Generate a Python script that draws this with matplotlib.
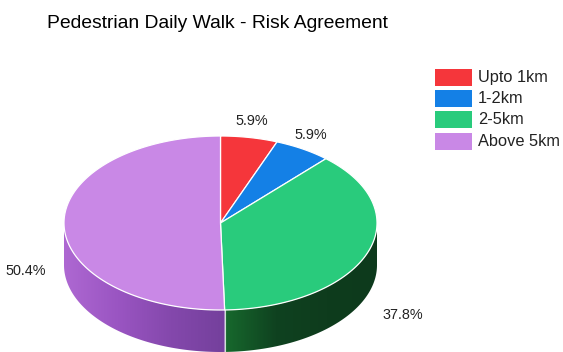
import numpy as np
import matplotlib
matplotlib.use("Agg")
import matplotlib.pyplot as plt
from matplotlib.patches import Polygon, Rectangle, PathPatch
from matplotlib.path import Path
from matplotlib.colors import LinearSegmentedColormap

plt.rcParams['font.family'] = ['Liberation Sans', 'DejaVu Sans']

title = "Pedestrian Daily Walk - Risk Agreement"
categories = ["Upto 1km", "1-2km", "2-5km", "Above 5km"]
counts = [7, 7, 45, 60]
top_colors = ["#f5363b", "#1480e6", "#29cb7c", "#c988e6"]
# side gradients (left -> right), only front slices need them
side_colors = {
    2: ["#17692d", "#0f4220", "#0e3c1d", "#0d3a1c"],
    3: ["#ae68d2", "#9a55c2", "#8448ac", "#74409c"],
}

W, H = 563, 352
fig = plt.figure(figsize=(W / 100, H / 100), dpi=100)
ax = fig.add_axes([0, 0, 1, 1])
ax.set_xlim(0, W)
ax.set_ylim(H, 0)
ax.axis("off")

cx, cy, rx, ry, depth = 220.5, 223.0, 156.5, 87.0, 42.0

vals = np.array(counts, dtype=float)
fracs = vals / vals.sum()
edges = np.concatenate([[0], np.cumsum(fracs)]) * 360.0


def pt(theta, dy=0.0):
    t = np.radians(theta)
    return cx + rx * np.sin(t), cy - ry * np.cos(t) + dy


# sides (front half: 90..270 deg clockwise from top)
for i in range(len(vals)):
    a0, a1 = max(edges[i], 90), min(edges[i + 1], 270)
    if a1 <= a0:
        continue
    th = np.linspace(a0, a1, 120)
    xt, yt = pt(th)
    xb, yb = pt(th[::-1], depth)
    verts = np.column_stack([np.concatenate([xt, xb]), np.concatenate([yt, yb])])
    clip = PathPatch(Path(np.vstack([verts, verts[:1]]), closed=True),
                     facecolor="none", edgecolor="none")
    ax.add_patch(clip)
    x_lo, x_hi = verts[:, 0].min(), verts[:, 0].max()
    cmap = LinearSegmentedColormap.from_list("s%d" % i, side_colors.get(i, [top_colors[i]] * 2))
    grad = np.linspace(0, 1, 256).reshape(1, -1)
    im = ax.imshow(grad, cmap=cmap, aspect="auto",
                   extent=[x_lo, x_hi, verts[:, 1].max(), verts[:, 1].min()],
                   interpolation="bilinear", zorder=1)
    im.set_clip_path(clip)

# vertical seam lines on the side
for e in edges[1:-1]:
    if 90 < e < 270:
        x0, y0 = pt(e)
        ax.plot([x0, x0], [y0, y0 + depth], color="white", lw=0.8, alpha=0.8, zorder=2)

# top wedges
for i in range(len(vals)):
    th = np.linspace(edges[i], edges[i + 1], 200)
    xs, ys = pt(th)
    poly = np.column_stack([np.concatenate([[cx], xs]), np.concatenate([[cy], ys])])
    ax.add_patch(Polygon(poly, closed=True, facecolor=top_colors[i],
                         edgecolor="white", lw=0.9, zorder=3))

# percent labels
for i in range(len(vals)):
    mid = np.radians((edges[i] + edges[i + 1]) / 2)
    s, c = np.sin(mid), np.cos(mid)
    if c < 0:
        lx = cx + (rx + 38) * s
        ly = cy + depth + 4 - (ry + 44) * c
    else:
        lx = cx + (rx + 15) * s
        ly = cy - (ry + 17) * c
    ax.text(lx, ly, "%.1f%%" % (fracs[i] * 100), fontsize=10.4, color="#222222",
            ha="center", va="center", zorder=5)

# title
ax.text(47, 24, title, fontsize=13.9, color="#000000", ha="left", va="center")

# legend
for i, name in enumerate(categories):
    y = 69 + i * 21.2
    ax.add_patch(Rectangle((435, y), 37, 17, facecolor=top_colors[i], edgecolor="none", zorder=4))
    ax.text(478, y + 8.5, name, fontsize=11.8, color="#222222", ha="left", va="center")

fig.savefig("out.png", dpi=100)
